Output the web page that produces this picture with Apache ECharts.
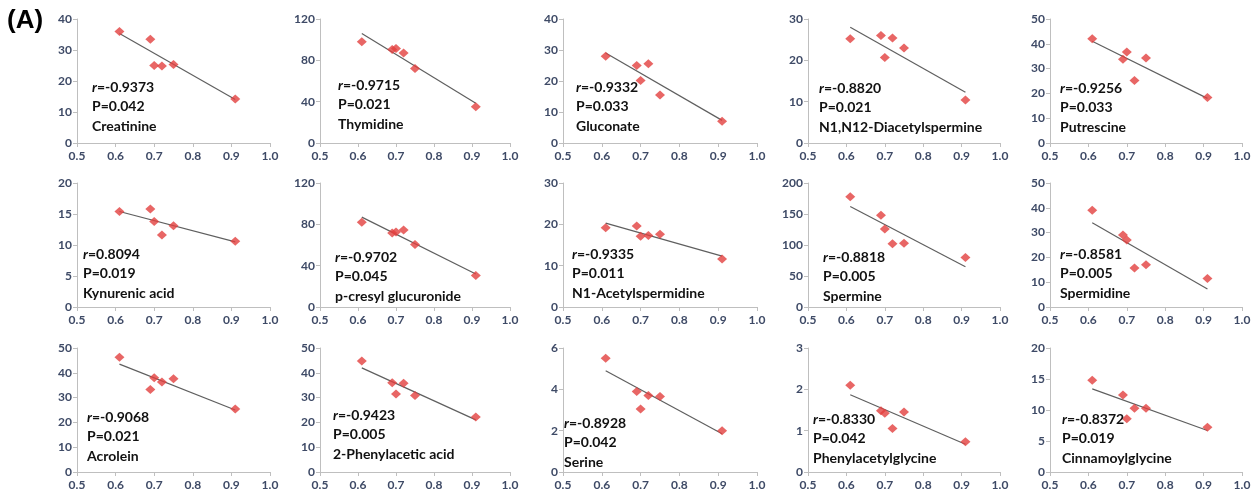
<!DOCTYPE html>
<html>
<head>
<meta charset="utf-8">
<script src="https://cdn.jsdelivr.net/npm/echarts@6/dist/echarts.min.js"></script>
<style>
html,body{margin:0;padding:0;background:#fff;}
#chart{width:1260px;height:499px;}
</style>
</head>
<body>
<div id="chart"></div>
<script>
// ---- data ----
var xValues = [0.61, 0.69, 0.70, 0.72, 0.75, 0.91];
var trendX = [0.61, 0.91];
var xTicks = [0.5, 0.6, 0.7, 0.8, 0.9, 1.0];

var names = ['Creatinine', 'Thymidine', 'Gluconate', 'N1,N12-Diacetylspermine', 'Putrescine',
  'Kynurenic acid', 'p-cresyl glucuronide', 'N1-Acetylspermidine', 'Spermine', 'Spermidine',
  'Acrolein', '2-Phenylacetic acid', 'Serine', 'Phenylacetylglycine', 'Cinnamoylglycine'];
var rValues = ['-0.9373', '-0.9715', '-0.9332', '-0.8820', '-0.9256',
  '0.8094', '-0.9702', '-0.9335', '-0.8818', '-0.8581',
  '-0.9068', '-0.9423', '-0.8928', '-0.8330', '-0.8372'];
var pValues = ['0.042', '0.021', '0.033', '0.021', '0.033',
  '0.019', '0.045', '0.011', '0.005', '0.005',
  '0.021', '0.005', '0.042', '0.042', '0.019'];
var yMax = [40, 120, 40, 30, 50, 20, 120, 30, 200, 50, 50, 50, 6, 3, 20];
var yStep = [10, 40, 10, 10, 10, 5, 40, 10, 50, 10, 10, 10, 2, 1, 5];

var creatinine = [36, 33.5, 25, 24.8, 25.3, 14.2];
var thymidine = [98, 90.5, 91.5, 87, 72, 35];
var gluconate = [28, 25, 20.2, 25.6, 15.5, 7];
var diacetylspermine = [25.2, 26, 20.7, 25.4, 23, 10.4];
var putrescine = [42, 33.8, 36.7, 25.2, 34.3, 18.3];
var kynurenicAcid = [15.4, 15.8, 13.8, 11.6, 13.1, 10.6];
var pCresylGlucuronide = [82, 71.5, 72.5, 74.5, 60.5, 30.5];
var acetylspermidine = [19.2, 19.6, 17.1, 17.3, 17.6, 11.6];
var spermine = [178, 148, 126, 102, 103, 80];
var spermidine = [39, 29, 27, 15.7, 17, 11.5];
var acrolein = [46.3, 33.3, 38, 36.3, 37.6, 25.4];
var phenylaceticAcid = [44.8, 36, 31.5, 35.8, 30.8, 22.2];
var serine = [5.5, 3.9, 3.05, 3.7, 3.65, 2.0];
var phenylacetylglycine = [2.1, 1.48, 1.42, 1.05, 1.45, 0.73];
var cinnamoylglycine = [14.8, 12.4, 8.6, 10.3, 10.3, 7.2];

var seriesValues = [creatinine, thymidine, gluconate, diacetylspermine, putrescine,
  kynurenicAcid, pCresylGlucuronide, acetylspermidine, spermine, spermidine,
  acrolein, phenylaceticAcid, serine, phenylacetylglycine, cinnamoylglycine];

var trendStart = [35.3, 106, 29, 28, 41, 15.4, 87, 20.3, 162, 34, 43.5, 42, 4.9, 1.87, 13.4];
var trendEnd = [14, 38.5, 7.3, 12.3, 18, 10.5, 32, 12.3, 65, 7.3, 25, 21, 1.85, 0.67, 6.7];

// ---- layout ----
var colLeft = [77, 320, 563, 808, 1050];
var colWidth = [193, 190, 194, 192, 192];
var rowTop = [19, 183, 348];
var rowHeight = 124;
var textLeft = [[92, 338, 576, 819, 1060], [83, 335, 572, 823, 1060], [87, 333, 564, 813, 1062]];
var textTop = [[80, 78, 80, 81, 81], [247, 250, 247, 250, 247], [410, 408, 416, 412, 412]];

var labelColor = '#3e4a66';
var axisColor = '#bfbfbf';
var grids = [], xAxes = [], yAxes = [], series = [], graphics = [];

for (var i = 0; i < 15; i++) {
  var r = Math.floor(i / 5), c = i % 5;
  grids.push({ left: colLeft[c], top: rowTop[r], width: colWidth[c], height: rowHeight, containLabel: false });
  xAxes.push({
    gridIndex: i, type: 'value', min: 0.5, max: 1.0, interval: 0.1,
    axisLine: { show: true, onZero: false, lineStyle: { color: axisColor, width: 1 } },
    axisTick: { show: true, length: 4, lineStyle: { color: axisColor } },
    splitLine: { show: false },
    axisLabel: { color: labelColor, fontFamily: 'Lato', fontWeight: 'bold', fontSize: 12, margin: 7,
      formatter: function (v) { return v.toFixed(1); } }
  });
  yAxes.push({
    gridIndex: i, type: 'value', min: 0, max: yMax[i], interval: yStep[i],
    axisLine: { show: true, lineStyle: { color: axisColor, width: 1 } },
    axisTick: { show: true, length: 4, lineStyle: { color: axisColor } },
    splitLine: { show: false },
    axisLabel: { color: labelColor, fontFamily: 'Lato', fontWeight: 'bold', fontSize: 12, margin: 5 }
  });
  var pts = xValues.map(function (x, k) { return [x, seriesValues[i][k]]; });
  series.push({
    type: 'line', xAxisIndex: i, yAxisIndex: i,
    data: [[trendX[0], trendStart[i]], [trendX[1], trendEnd[i]]],
    showSymbol: false, symbol: 'none', silent: true, z: 2,
    lineStyle: { color: '#5f5f5f', width: 1.2 }
  });
  series.push({
    type: 'scatter', xAxisIndex: i, yAxisIndex: i, data: pts, z: 3,
    symbol: 'diamond', symbolSize: [10, 9],
    itemStyle: { color: '#e2403f' }
  });
  graphics.push({
    type: 'text', left: textLeft[r][c], top: textTop[r][c], z: 10,
    style: {
      text: '{i|r}{n|=' + rValues[i] + '}\n{n|P=' + pValues[i] + '}\n{n|' + names[i] + '}',
      rich: {
        i: { fontFamily: 'Lato', fontStyle: 'italic', fontWeight: 'bold', fontSize: 14, fill: '#111', lineHeight: 19.5 },
        n: { fontFamily: 'Lato', fontWeight: 'bold', fontSize: 14, fill: '#111', lineHeight: 19.5 }
      }
    }
  });
}
graphics.push({
  type: 'text', left: 7, top: 8, z: 10,
  style: { text: '(A)', fontFamily: 'Liberation Sans', fontWeight: 'bold', fontSize: 26, fill: '#000' }
});

var chart = echarts.init(document.getElementById('chart'));
chart.setOption({
  animation: false,
  backgroundColor: '#ffffff',
  grid: grids, xAxis: xAxes, yAxis: yAxes, series: series, graphic: graphics
});
</script>
</body>
</html>
